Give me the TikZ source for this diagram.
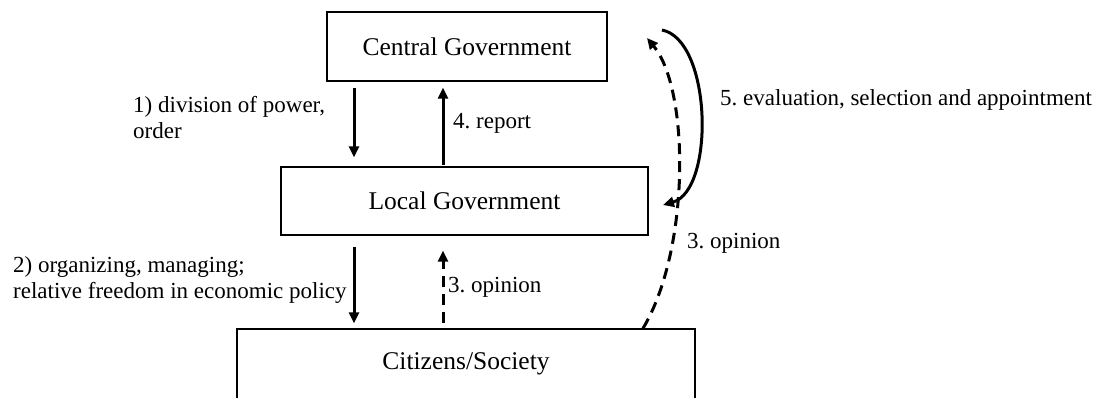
\documentclass[tikz,border=0pt]{standalone}
\usepackage{fontspec}
\setmainfont{Liberation Serif}
\usetikzlibrary{arrows.meta}
\frenchspacing

\begin{document}
\begin{tikzpicture}[x=1pt, y=-1pt,
    box/.style={draw, line width=1.3pt, inner sep=0pt, font=\fontsize{25.5}{30}\selectfont},
    lbl/.style={inner sep=0pt, align=left, anchor=base west, font=\fontsize{23}{26}\selectfont},
    arr/.style={line width=3pt, -{Triangle[length=11pt,width=10pt]}},
    dsh/.style={arr, dash pattern=on 11pt off 7pt}]
  %tikz  central, local, citizens
    \clip (0,0) rectangle (1097,397);
    \node[box, minimum width=280pt, minimum height=69pt] (central) at (467,46.5) {Central Government};
    \node[box, minimum width=367pt, minimum height=68pt] (local) at (464.5,201) {Local Government};
    \node[box, minimum width=458pt, minimum height=70pt] (citizens) at (466,364) {Citizens/Society};
    \coordinate (down) at (354,0);
    \coordinate (up) at (443,0);
    \coordinate (evalA) at (662,30);
    \coordinate (evalB) at (663,205);
    \coordinate (opinA) at (643,0);
    \coordinate (opinB) at (647,38);
    \draw[arr, shorten <=6pt, shorten >=9pt] (central.south -| down) -- (local.north -| down);
    \draw[arr, shorten <=1pt, shorten >=6pt] (local.north -| up) -- (central.south -| up);
    \draw[arr, shorten <=11pt, shorten >=5pt] (local.south -| down) -- (citizens.north -| down);
    \draw[dsh, shorten <=5pt, shorten >=15pt] (citizens.north -| up) -- (local.south -| up);
    \draw[arr] (evalA) .. controls (712,40) and (715,190) .. (evalB);
    \draw[dsh] (citizens.north -| opinA) .. controls (690,250) and (690,90) .. (opinB);
    \node[lbl] (division) at (133,138) {1) division of power,\\order};
    \node[lbl] (organize) at (13,298) {2) organizing, managing;\\relative freedom in economic policy};
    \node[lbl] (report) at (453,128) {4. report};
    \node[lbl] (opinMid) at (448,292) {3. opinion};
    \node[lbl] (opinRight) at (687,248) {3. opinion};
    \node[lbl] (evaluation) at (720,105) {5. evaluation, selection and appointment};
  \end{tikzpicture}
\end{document}
